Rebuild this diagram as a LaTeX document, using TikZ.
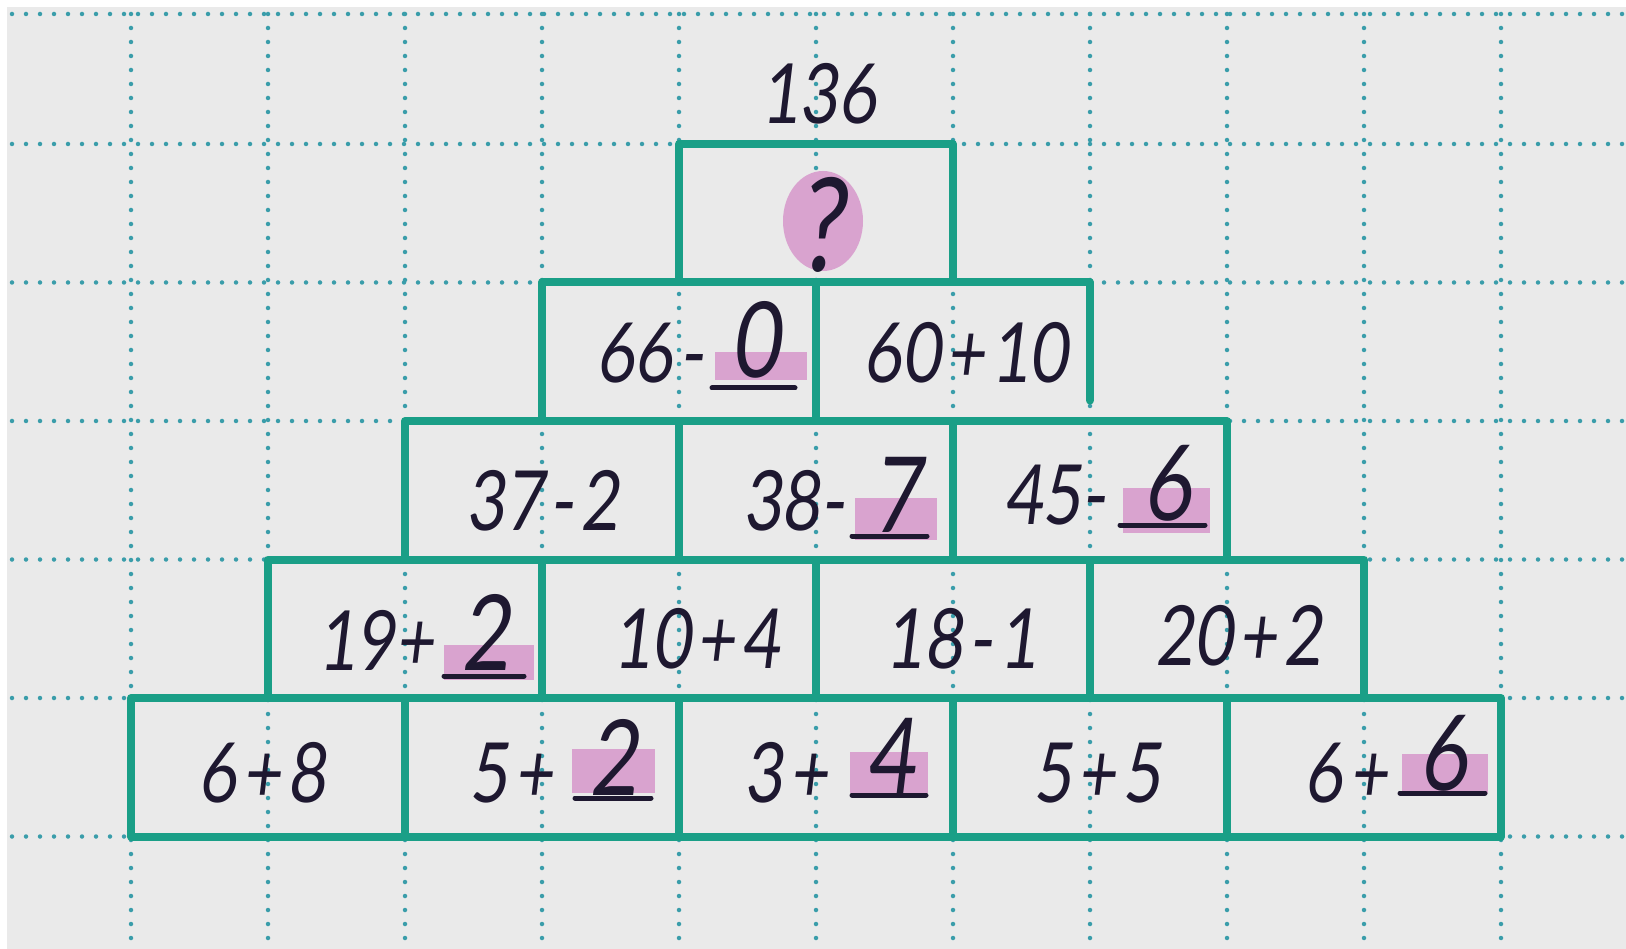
\documentclass[tikz,border=0pt]{standalone}
\usepackage{fontspec}
\setmainfont{Lato}[FakeSlant=0.12,FakeStretch=0.8]
\definecolor{paper}{HTML}{EAEAEA}
\definecolor{gridc}{HTML}{3A9DAA}
\definecolor{boxc}{HTML}{1A9F87}
\definecolor{hl}{HTML}{D9A3CF}
\definecolor{ink}{HTML}{1E1830}
\newcommand\gp{\hspace{6pt}}
\tikzset{
  gridline/.style={gridc, line width=4.5pt, line cap=round, dash pattern=on 0pt off 14pt},
  cell/.style={draw=boxc, line width=8pt, line join=round, minimum width=274pt, minimum height=138.5pt, inner sep=0pt, outer sep=0pt},
  cellshape/.style={cell, draw=none},
  boxline/.style={draw=boxc, line width=8pt, line join=round, line cap=round},
  num/.style={text=ink, inner sep=0pt, font=\fontsize{83}{90}\selectfont},
  ans/.style={num, anchor=base, font=\fontsize{105}{110}\selectfont},
  hlfill/.style={fill=hl},
  uline/.style={draw=ink, line width=5pt, line cap=round},
}
\begin{document}
\begin{tikzpicture}[x=1pt,y=-1pt]
\useasboundingbox (0,0) rectangle (1626,949);
\fill[white] (0,0) rectangle (1626,949);
\fill[paper] (7,7) rectangle (1626,949);
% dotted grid
\foreach \k in {0,...,10} \draw[gridline] (131+137*\k,14) -- (131+137*\k,949);
\foreach \y in {14,144,282.5,421,559.5,698,836.5} \draw[gridline] (12,\y) -- (1626,\y);
% highlights
\fill[hl] (823,221) ellipse [x radius=40, y radius=50];
\fill[hlfill] (715,352) rectangle (807,380);
\fill[hlfill] (855,498) rectangle (937,540);
\fill[hlfill] (1123,488) rectangle (1210,533);
\fill[hlfill] (444,645) rectangle (534,680);
\fill[hlfill] (572,749) rectangle (655,793);
\fill[hlfill] (850,752) rectangle (928,793);
\fill[hlfill] (1402,754) rectangle (1488,793);
% boxes
\node[cell] (top) at (816,213.25) {};
\node[cell] (b21) at (679,351.75) {};
\node[cellshape] (b22) at (953,351.75) {};
\draw[boxline] (b22.south west) -- (b22.north west) -- (b22.north east) -- ([yshift=-118pt]b22.north east);
\node[cell] (b31) at (542,490.25) {};
\node[cell] (b32) at (816,490.25) {};
\node[cell] (b33) at (1090,490.25) {};
\node[cell] (b41) at (405,628.75) {};
\node[cell] (b42) at (679,628.75) {};
\node[cell] (b43) at (953,628.75) {};
\node[cell] (b44) at (1227,628.75) {};
\node[cell] (b51) at (268,767.25) {};
\node[cell] (b52) at (542,767.25) {};
\node[cell] (b53) at (816,767.25) {};
\node[cell] (b54) at (1090,767.25) {};
\node[cell] (b55) at (1364,767.25) {};
% texts
\node[num, anchor=base] (t0) at (819,124) {136};
\node[num, anchor=base, font=\fontsize{130}{135}\selectfont] (q) at (821,272) {?};
\node[num, anchor=base east] (t21) at (704,383) {66\gp-};
\node[ans] (a21) at (756,378) {0};
\draw[uline] (712,388) -- (795,388);
\node[num, anchor=base] (t22) at (966,383) {60\gp+\gp10};
\node[num, anchor=base] (t31) at (543,530) {37\gp-\gp2};
\node[num, anchor=base east] (t32) at (845,530) {38-};
\node[ans] (a32) at (897,532) {7};
\draw[uline] (852,536) -- (927,536);
\node[num, anchor=base east] (t33) at (1106,525) {45-};
\node[ans] (a33) at (1168,520) {6};
\draw[uline] (1120,525) -- (1205,525);
\node[num, anchor=base east] (t41) at (434,670) {19+};
\node[ans] (a41) at (486,670) {2};
\draw[uline] (444,676) -- (524,676);
\node[num, anchor=base] (t42) at (697,668) {10\gp+\gp4};
\node[num, anchor=base] (t43) at (962,668) {18\gp-\gp1};
\node[num, anchor=base] (t44) at (1239,665) {20\gp+\gp2};
\node[num, anchor=base] (t51) at (262,802) {6\gp+\gp8};
\node[num, anchor=base east] (t52) at (553,802) {5\gp+};
\node[ans] (a52) at (614,795) {2};
\draw[uline] (575,798) -- (651,798);
\node[num, anchor=base east] (t53) at (828,802) {3\gp+};
\node[ans] (a53) at (891,793) {4};
\draw[uline] (852,795) -- (926,795);
\node[num, anchor=base] (t54) at (1097,802) {5\gp+\gp5};
\node[num, anchor=base east] (t55) at (1388,802) {6\gp+};
\node[ans] (a55) at (1444,790) {6};
\draw[uline] (1400,793) -- (1485,793);
\end{tikzpicture}
\end{document}
